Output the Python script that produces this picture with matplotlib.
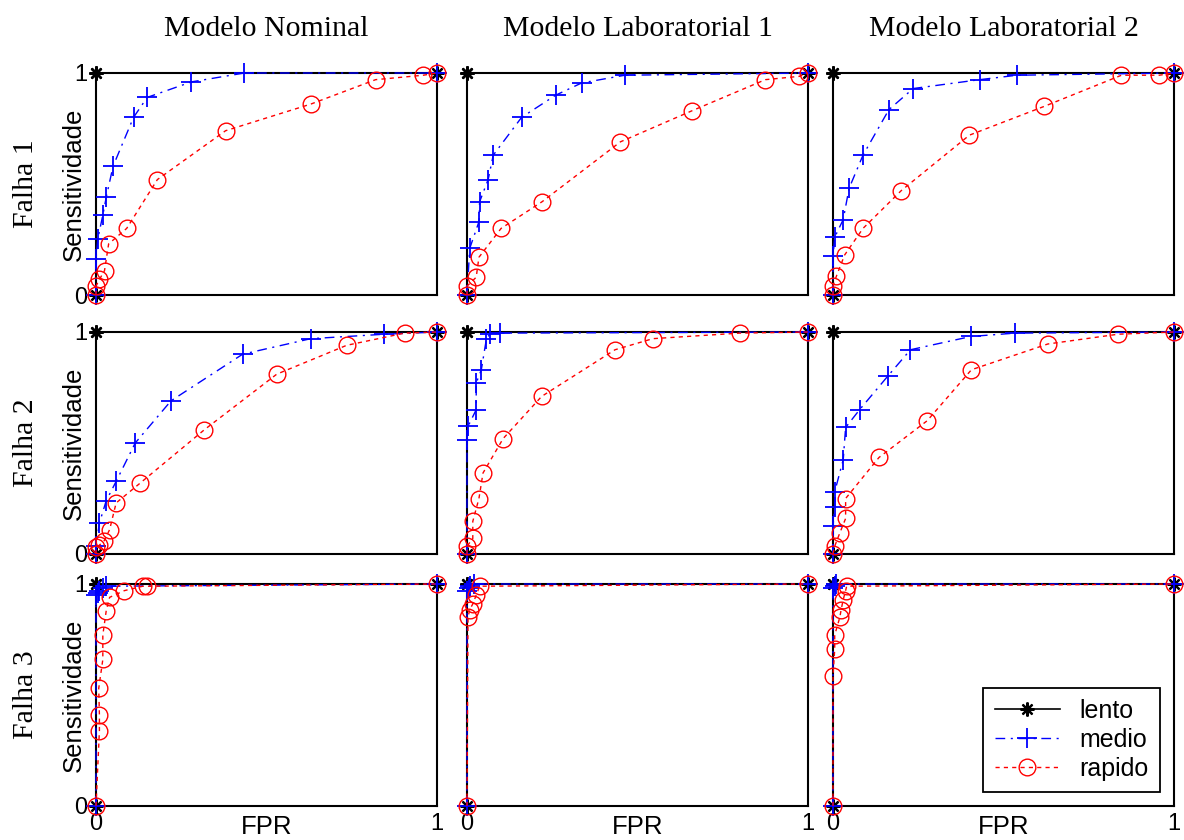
#--------importing modules-------------
import matplotlib
matplotlib.use("Agg")
import matplotlib.pyplot as plt

#---------------------------------------
#-------data-------
#---------------------------------------

modelos = ["Modelo Nominal", "Modelo Laboratorial 1", "Modelo Laboratorial 2"]
falhas = ["Falha 1", "Falha 2", "Falha 3"]
series = ["lento", "medio", "rapido"]

# lento: same trivial curve in every panel
lento_x = [0, 0, 0, 1]
lento_y = [0, 1, 1, 1]

# medio (one list per modelo) - Falha 1
medio_x_f1 = [[0, 0, 0.005, 0.02, 0.03, 0.05, 0.11, 0.15, 0.28, 0.435, 1],
              [0, 0.008, 0.035, 0.037, 0.062, 0.077, 0.16, 0.26, 0.336, 0.463, 1],
              [0, 0, 0.005, 0.03, 0.047, 0.088, 0.164, 0.235, 0.43, 0.54, 1]]
medio_y_f1 = [[0, 0.16, 0.25, 0.36, 0.44, 0.58, 0.80, 0.89, 0.96, 1.0, 1],
              [0, 0.21, 0.33, 0.42, 0.52, 0.63, 0.80, 0.90, 0.955, 0.99, 1],
              [0, 0.175, 0.26, 0.34, 0.48, 0.63, 0.835, 0.93, 0.97, 0.99, 1]]
# rapido - Falha 1
rapido_x_f1 = [[0, 0, 0.01, 0.025, 0.037, 0.09, 0.18, 0.38, 0.63, 0.82, 0.96, 1],
               [0, 0, 0.027, 0.035, 0.10, 0.22, 0.45, 0.66, 0.875, 0.975, 1],
               [0, 0, 0.01, 0.034, 0.088, 0.20, 0.40, 0.62, 0.846, 0.957, 1]]
rapido_y_f1 = [[0, 0.04, 0.07, 0.11, 0.23, 0.30, 0.52, 0.74, 0.86, 0.97, 0.99, 1],
               [0, 0.04, 0.08, 0.17, 0.30, 0.42, 0.69, 0.83, 0.97, 0.985, 1],
               [0, 0.04, 0.085, 0.18, 0.30, 0.47, 0.72, 0.85, 0.99, 0.99, 1]]

# medio - Falha 2
medio_x_f2 = [[0, 0, 0.01, 0.03, 0.06, 0.115, 0.22, 0.43, 0.63, 0.846, 1],
              [0, 0, 0.003, 0.027, 0.027, 0.042, 0.057, 0.067, 0.096, 1],
              [0, 0, 0.005, 0.005, 0.03, 0.037, 0.078, 0.16, 0.227, 0.405, 0.535, 1]]
medio_y_f2 = [[0, 0.035, 0.14, 0.24, 0.33, 0.50, 0.69, 0.90, 0.97, 0.99, 1],
              [0, 0.515, 0.575, 0.65, 0.77, 0.83, 0.97, 0.99, 0.995, 1],
              [0, 0.125, 0.21, 0.28, 0.425, 0.57, 0.65, 0.80, 0.92, 0.98, 0.995, 1]]
# rapido - Falha 2
rapido_x_f2 = [[0, 0, 0.01, 0.024, 0.04, 0.059, 0.13, 0.318, 0.53, 0.735, 0.905, 1],
               [0, 0, 0.017, 0.017, 0.035, 0.047, 0.106, 0.219, 0.434, 0.545, 0.80, 1],
               [0, 0.005, 0.02, 0.037, 0.037, 0.135, 0.276, 0.406, 0.63, 0.836, 1]]
rapido_y_f2 = [[0, 0.03, 0.04, 0.06, 0.11, 0.23, 0.32, 0.56, 0.81, 0.94, 0.995, 1],
               [0, 0.035, 0.07, 0.147, 0.25, 0.365, 0.52, 0.71, 0.92, 0.97, 0.995, 1],
               [0, 0.035, 0.095, 0.16, 0.25, 0.435, 0.60, 0.83, 0.946, 0.99, 1]]

# medio - Falha 3
medio_x_f3 = [[0, 0, 0.005, 0.01, 0.02, 0.03, 1],
              [0, 0, 0.005, 0.01, 0.02, 1],
              [0, 0, 0.005, 0.01, 1]]
medio_y_f3 = [[0, 0.95, 0.96, 0.97, 0.98, 0.99, 1],
              [0, 0.97, 0.98, 0.99, 1.0, 1],
              [0, 0.98, 0.99, 1.0, 1]]
# rapido - Falha 3
rapido_x_f3 = [[0, 0.01, 0.01, 0.008, 0.02, 0.02, 0.03, 0.04, 0.083, 0.137, 0.15, 1],
               [0, 0.003, 0.008, 0.017, 0.027, 0.037, 1],
               [0, 0, 0.005, 0.005, 0.02, 0.024, 0.03, 0.037, 0.04, 1]]
rapido_y_f3 = [[0, 0.34, 0.41, 0.53, 0.66, 0.77, 0.88, 0.94, 0.97, 0.99, 0.99, 1],
               [0, 0.85, 0.885, 0.91, 0.95, 0.99, 1],
               [0, 0.585, 0.705, 0.77, 0.85, 0.885, 0.93, 0.97, 0.99, 1]]

medio_x = [medio_x_f1, medio_x_f2, medio_x_f3]
medio_y = [medio_y_f1, medio_y_f2, medio_y_f3]
rapido_x = [rapido_x_f1, rapido_x_f2, rapido_x_f3]
rapido_y = [rapido_y_f1, rapido_y_f2, rapido_y_f3]

#---------------------------------------
#-------layout (pixels)-----------------
#---------------------------------------

W, H = 1184, 840
col_left = [96, 467, 833]
row_top = [73, 332, 584]
ax_w, ax_h = 341, 222

serif = "Liberation Serif"
sans = "Liberation Sans"

fig = plt.figure(figsize=(W / 100, H / 100), dpi=100)

for r in range(3):
    for c in range(3):
        ax = fig.add_axes([col_left[c] / W, 1 - (row_top[r] + ax_h) / H, ax_w / W, ax_h / H])

        ax.plot(lento_x, lento_y, color="k", ls="-", lw=1.2, marker=(8, 2, 0),
                ms=10, mew=1.6, clip_on=False, zorder=3, label=series[0])
        ax.plot(medio_x[r][c], medio_y[r][c], color="b", ls=(0, (7, 4, 1.5, 4)), lw=1,
                marker="+", ms=14, mew=1.3, clip_on=False, zorder=4, label=series[1])
        ax.plot(rapido_x[r][c], rapido_y[r][c], color="r", ls=(0, (3, 3)), lw=1,
                marker="o", mfc="none", ms=12, mew=1, clip_on=False, zorder=5, label=series[2])

        ax.set_xlim(0, 1)
        ax.set_ylim(0, 1)
        ax.set_xticks([0, 1])
        ax.set_yticks([0, 1])
        ax.tick_params(length=0, labelsize=17, pad=6)
        for lab in ax.get_xticklabels() + ax.get_yticklabels():
            lab.set_fontfamily(sans)
        if c > 0:
            ax.set_yticklabels([])
        if r < 2:
            ax.set_xticklabels([])
        else:
            ax.tick_params(axis="x", pad=5)
        for sp in ax.spines.values():
            sp.set_linewidth(1.5)
            sp.set_color("k")

        if r == 2 and c == 2:
            leg = ax.legend(loc="lower right", prop={"family": sans, "size": 18},
                            fancybox=False, edgecolor="k", framealpha=1,
                            labelspacing=0.2, handlelength=2.6, borderaxespad=0.55,
                            borderpad=0.45)
            leg.get_frame().set_linewidth(1.3)

        # text around the grid
        if r == 0:
            fig.text((col_left[c] + ax_w / 2) / W, 1 - 29 / H, modelos[c],
                     family=serif, size=21.5, ha="center", va="center")
        if r == 2:
            fig.text((col_left[c] + ax_w / 2) / W, 1 - 827 / H, "FPR",
                     family=sans, size=18.5, ha="center", va="center")
        if c == 0:
            fig.text(26 / W, 1 - (row_top[r] + ax_h / 2) / H, falhas[r],
                     family=serif, size=21.5, rotation=90, ha="center", va="center")
            fig.text(74 / W, 1 - (row_top[r] + ax_h / 2) / H, "Sensitividade",
                     family=sans, size=18.5, rotation=90, ha="center", va="center")

plt.savefig("out.png", dpi=100)
